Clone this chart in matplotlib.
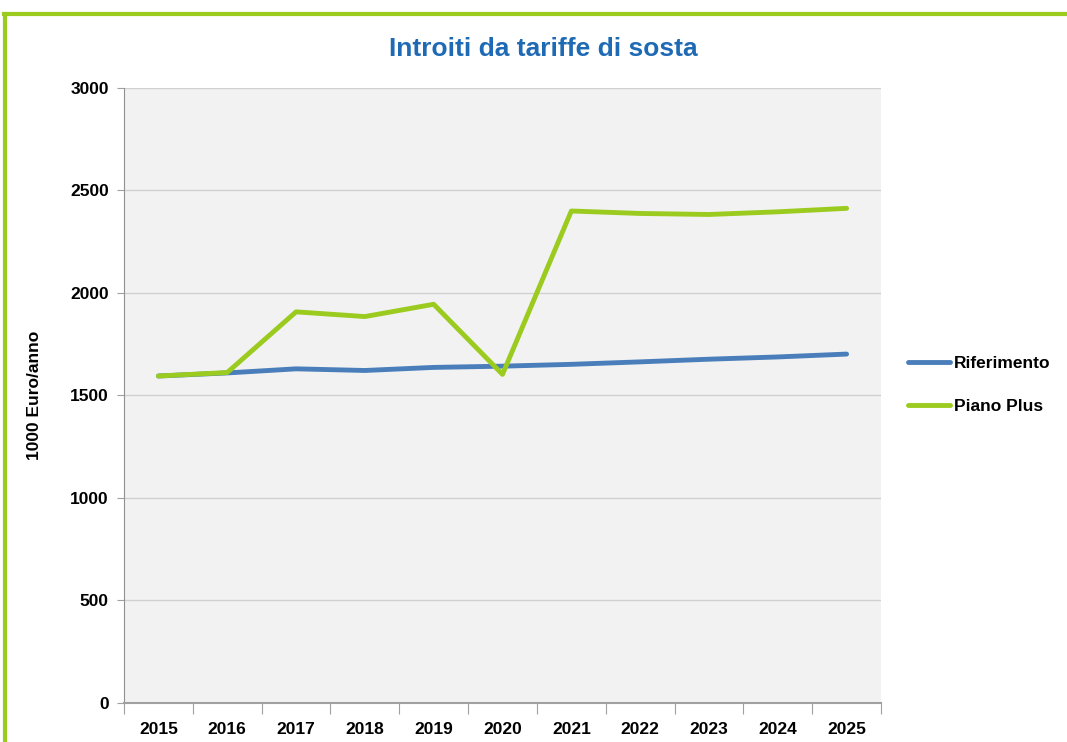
import numpy as np
import matplotlib.pyplot as plt
from matplotlib.lines import Line2D

# data
years = ['2015', '2016', '2017', '2018', '2019', '2020', '2021', '2022', '2023', '2024', '2025']
riferimento = [1595, 1610, 1630, 1622, 1637, 1643, 1652, 1664, 1677, 1688, 1702]
piano_plus = [1595, 1612, 1908, 1885, 1945, 1603, 2400, 2388, 2383, 2396, 2413]

plt.rcParams['font.family'] = ['Liberation Sans', 'DejaVu Sans']

fig = plt.figure(figsize=(10.67, 7.42), dpi=100)
ax = fig.add_axes([0.1162, 0.0526, 0.7095, 0.8288])

x = np.arange(len(years))
ax.plot(x, riferimento, color='#4A7EBB', lw=3.5, label='Riferimento', solid_capstyle='round')
ax.plot(x, piano_plus, color='#9BCB1F', lw=3.5, label='Piano Plus', solid_capstyle='round')

ax.set_facecolor('#F2F2F2')
ax.set_xlim(-0.5, len(years) - 0.5)
ax.set_ylim(0, 3000)
ax.set_yticks(np.arange(0, 3001, 500))
ax.yaxis.grid(True, color='#D0D0D0', lw=1)
ax.set_axisbelow(True)

# category ticks between labels
ax.set_xticks(np.arange(-0.5, len(years), 1))
ax.set_xticklabels([])
ax.set_xticks(x, minor=True)
ax.set_xticklabels(years, minor=True, fontsize=12.5, fontweight='bold')
ax.tick_params(axis='x', which='minor', length=0, pad=14)
ax.tick_params(axis='x', which='major', length=8, color='#A0A0A0', direction='out')
ax.tick_params(axis='y', length=5, color='#A0A0A0', labelsize=12.5, pad=6)
for lbl in ax.get_yticklabels():
    lbl.set_fontweight('bold')

for s in ['top', 'right']:
    ax.spines[s].set_visible(False)
ax.spines['left'].set_color('#909090')
ax.spines['bottom'].set_color('#A0A0A0')
ax.spines['bottom'].set_linewidth(1.5)

ax.set_ylabel('1000 Euro/anno', fontsize=12.5, fontweight='bold', labelpad=20)

fig.text(0.509, 0.934, 'Introiti da tariffe di sosta', ha='center', va='center',
         fontsize=19, fontweight='bold', color='#1F6AB4')

leg = ax.legend(loc='center left', bbox_to_anchor=(1.036, 0.517), frameon=False,
                borderaxespad=0, borderpad=0,
                fontsize=12.5, handlelength=2.4, handletextpad=0.25, labelspacing=1.6)
for t in leg.get_texts():
    t.set_fontweight('bold')

# green frame
fig.add_artist(Line2D([0.004, 1.0], [0.981, 0.981], color='#9BCB1F', lw=3, transform=fig.transFigure))
fig.add_artist(Line2D([0.005, 0.005], [0.0, 0.981], color='#9BCB1F', lw=3, transform=fig.transFigure))

plt.savefig('out.png', dpi=100)
